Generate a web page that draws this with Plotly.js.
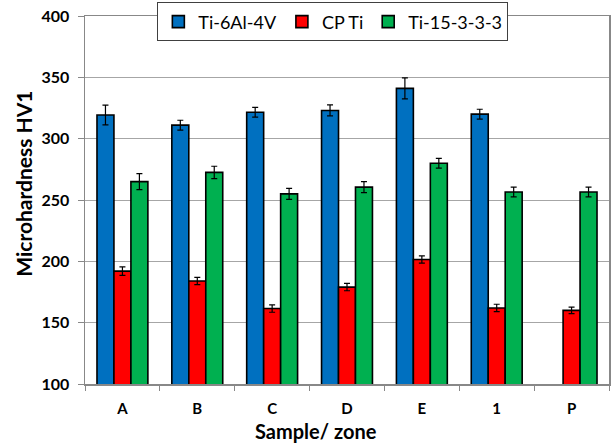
<!DOCTYPE html>
<html>
<head>
<meta charset="utf-8">
<script src="https://cdn.plot.ly/plotly-3.0.1.min.js"></script>
<style>html,body{margin:0;padding:0;background:#fff;}#chart{width:611px;height:446px;}</style>
</head>
<body>
<div id="chart"></div>
<script>
var categories = ['A', 'B', 'C', 'D', 'E', '1', 'P'];
var seriesNames = ['Ti-6Al-4V', 'CP Ti', 'Ti-15-3-3-3'];
var ti64 = [319.3, 311, 321.5, 323, 341, 320, null];
var ti64Err = [8, 4, 4, 4.5, 8.5, 4, null];
var cpTi = [192, 184, 161.5, 179, 201.5, 162, 160];
var cpTiErr = [3.5, 3, 3, 3, 3, 3, 2.7];
var ti15 = [265, 272.5, 255, 260.5, 280, 256.5, 256.5];
var ti15Err = [6.5, 5, 4.5, 4.5, 4, 4, 4];
var yTicks = [100, 150, 200, 250, 300, 350, 400];
var colors = ['#0070C0', '#FF0000', '#00B050'];

var values = [ti64, cpTi, ti15];
var errs = [ti64Err, cpTiErr, ti15Err];

var traces = values.map(function (v, i) {
  return {
    type: 'bar',
    name: seriesNames[i],
    x: categories,
    y: v,
    marker: {color: colors[i], line: {color: '#000000', width: 1.6}},
    error_y: {type: 'data', array: errs[i], visible: true, color: '#000000', thickness: 1.2, width: 3}
  };
});

var fontFam = 'Lato, "Open Sans", sans-serif';

var layout = {
  width: 611,
  height: 446,
  margin: {l: 85, r: 2, t: 16, b: 62, pad: 0},
  paper_bgcolor: '#ffffff',
  plot_bgcolor: '#ffffff',
  barmode: 'group',
  bargap: 0.32,
  bargroupgap: 0,
  font: {family: fontFam, color: '#000000'},
  showlegend: true,
  legend: {
    orientation: 'h',
    x: 0.473, xanchor: 'center',
    y: 0.984, yanchor: 'middle',
    bgcolor: '#ffffff',
    bordercolor: '#404040',
    borderwidth: 1,
    font: {family: fontFam, size: 18, color: '#000000'},
    traceorder: 'normal'
  },
  xaxis: {
    type: 'category',
    tickson: 'boundaries',
    ticks: 'outside',
    ticklen: 5,
    tickcolor: '#888888',
    showline: true,
    linecolor: '#888888',
    linewidth: 1.5,
    mirror: true,
    showgrid: false,
    tickfont: {family: fontFam, size: 15, weight: 'bold', color: '#000000'},
    ticklabelstandoff: 10
  },
  yaxis: {
    range: [100, 400],
    tickvals: yTicks,
    ticks: 'outside',
    ticklen: 6,
    tickcolor: '#888888',
    showline: true,
    linecolor: '#888888',
    linewidth: 1.5,
    mirror: true,
    showgrid: true,
    gridcolor: '#a6a6a6',
    gridwidth: 1,
    zeroline: false,
    tickfont: {family: fontFam, size: 16, weight: 'bold', color: '#000000'},
    ticklabelstandoff: 5
  },
  annotations: [
    {
      text: 'Sample/ zone', xref: 'paper', yref: 'paper',
      x: (316 - 85) / 524, y: -(432 - 384.5) / 368.5,
      xanchor: 'center', yanchor: 'middle', showarrow: false,
      font: {family: fontFam, size: 20, weight: 'bold', color: '#000000'}
    },
    {
      text: 'Microhardness HV1', xref: 'paper', yref: 'paper',
      x: -(85 - 24) / 524, y: 1 - (184 - 16) / 368.5,
      xanchor: 'center', yanchor: 'middle', textangle: -90, showarrow: false,
      font: {family: fontFam, size: 21, weight: 'bold', color: '#000000'}
    }
  ]
};

Plotly.newPlot('chart', traces, layout, {displayModeBar: false, staticPlot: true});
</script>
</body>
</html>
